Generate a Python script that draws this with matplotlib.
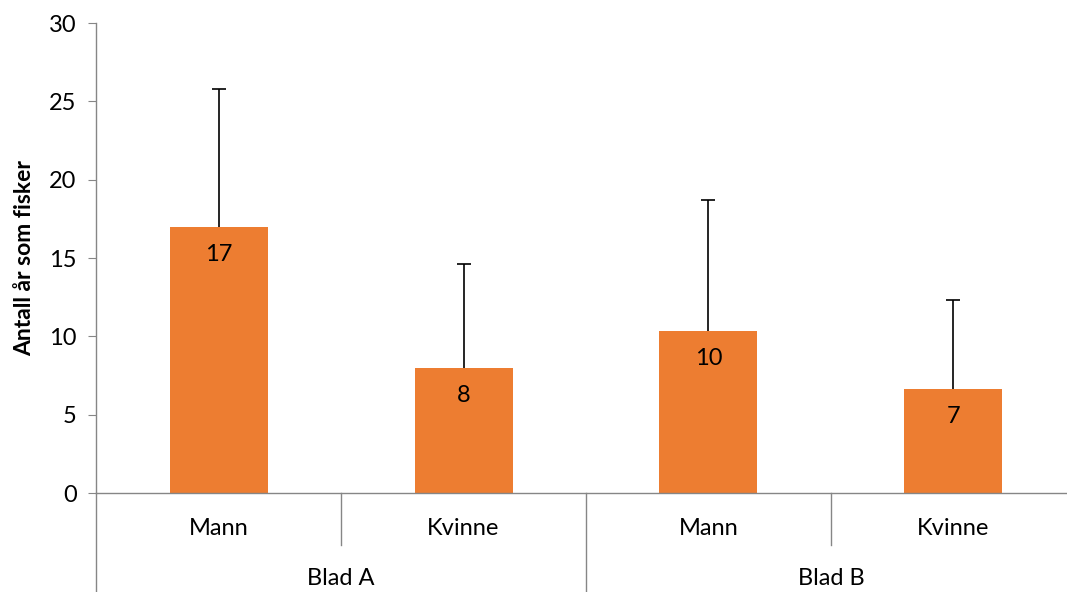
"""
Bar chart of number of years fishing, by sex and sheet, with error bars.
"""
import matplotlib.pyplot as plt
import numpy as np

categories = ['Mann', 'Kvinne', 'Mann', 'Kvinne']
groups = ['Blad A', 'Blad B']
means = [17.0, 8.0, 10.35, 6.65]
upper = [25.8, 14.62, 18.7, 12.32]

plt.rcParams['font.family'] = ['Lato', 'DejaVu Sans']
FS = 17

fig = plt.figure(figsize=(10.67, 5.92), dpi=100)
ax = fig.add_axes([0.09, 0.1672, 0.9184, 0.7939])

x = np.arange(len(categories))
yerr = [np.zeros(len(means)), np.array(upper) - np.array(means)]
ax.bar(x, means, width=0.4, color='#ED7D31', zorder=2)
_, caps, _ = ax.errorbar(x, means, yerr=yerr, fmt='none', ecolor='black',
                         elinewidth=1.2, capsize=4.7, capthick=1.2, zorder=3)
caps[0].set_visible(False)  # no cap at the bar top

for xi, m in zip(x, means):
    ax.annotate(f'{m:.0f}', (xi, m), xytext=(0, -20), textcoords='offset points',
                ha='center', va='center', fontsize=FS)

ax.set_xlim(-0.5, len(categories) - 0.5)
ax.set_ylim(0, 30)
ax.set_yticks(range(0, 31, 5))
ax.set_xticks([])
ax.tick_params(axis='y', length=6, color='#868686', labelsize=FS, pad=8)
for side in ['top', 'right']:
    ax.spines[side].set_visible(False)
for side in ['left', 'bottom']:
    ax.spines[side].set_color('#868686')
    ax.spines[side].set_linewidth(1.0)
ax.set_ylabel('Antall år som fisker', fontsize=16.5, fontweight='bold', labelpad=10)

# category and group labels below the axis
trans = ax.get_xaxis_transform()
for xi, cat in zip(x, categories):
    ax.text(xi, -0.075, cat, transform=trans, ha='center', va='center', fontsize=FS)
for gi, g in enumerate(groups):
    ax.text(2 * gi + 0.5, -0.182, g, transform=trans, ha='center', va='center',
            fontsize=FS)

# separator lines
for b in [0.5, 2.5]:
    ax.plot([b, b], [0, -0.11], transform=trans, color='#868686', lw=1.0,
            clip_on=False)
for b in [-0.5, 1.5]:
    ax.plot([b, b], [0, -0.22], transform=trans, color='#868686', lw=1.0,
            clip_on=False)

fig.savefig('out.png', dpi=100)
